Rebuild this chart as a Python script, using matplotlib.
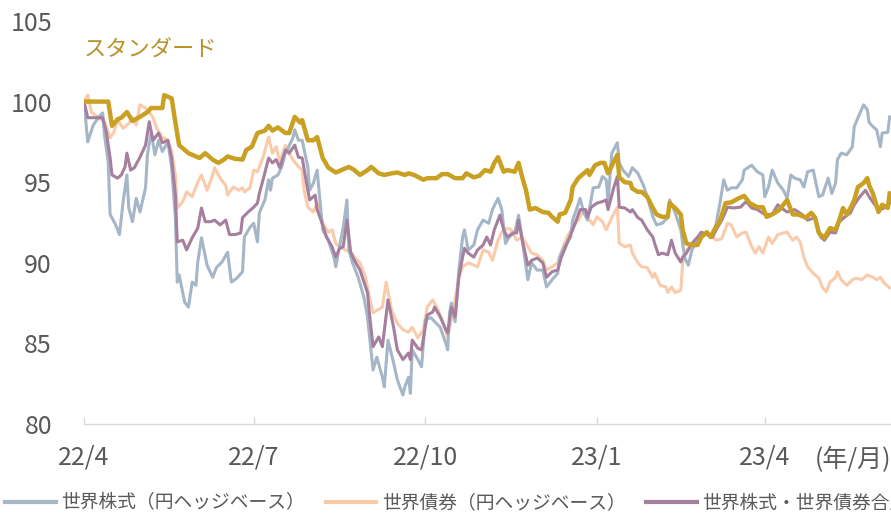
import matplotlib
matplotlib.use("Agg")
import matplotlib.pyplot as plt
from matplotlib.lines import Line2D
import pandas as pd

plt.rcParams['font.family'] = ['Noto Sans CJK JP', 'DejaVu Sans']

START = pd.Timestamp("2022-04-01")
END = pd.Timestamp("2023-06-07 17:00")

# --- days since START and index values --- #
equity_days = [0, 2, 5, 8, 10, 11, 13, 14, 17, 19, 21, 23, 24, 26, 28, 30, 33, 34, 36, 38,
               40, 42, 45, 47, 49, 50, 51, 54, 56, 58, 60, 61, 63, 66, 69, 71, 74, 77, 79, 82,
               85, 86, 89, 91, 93, 94, 97, 99, 100, 101, 104, 106, 108, 109, 112, 113, 115, 117, 120, 121,
               123, 125, 127, 128, 131, 134, 135, 137, 139, 141, 142, 144, 147, 150, 152, 155, 157, 160, 161, 163,
               166, 168, 171, 172, 174, 175, 176, 179, 181, 183, 186, 188, 191, 194, 195, 196, 197, 199, 201, 203,
               204, 206, 209, 211, 214, 217, 219, 222, 224, 226, 228, 231, 233, 235, 238, 240, 243, 246, 248, 251,
               254, 255, 258, 261, 262, 264, 266, 268, 270, 273, 276, 278, 280, 281, 283, 286, 287, 289, 292, 294,
               297, 300, 302, 305, 307, 310, 313, 314, 317, 320, 322, 324, 326, 329, 331, 334, 337, 339, 341, 343,
               345, 347, 350, 353, 354, 358, 361, 364, 365, 367, 369, 372, 375, 377, 379, 381, 384, 386, 388, 391,
               394, 396, 399, 401, 403, 404, 406, 409, 412, 413, 415, 418, 420, 421, 423, 425, 427, 428, 431, 432]
equity_vals = [100.0, 97.5, 98.55, 99.05, 99.3, 97.9, 96.25, 93.0, 92.35, 91.75, 93.8, 95.45, 93.4, 92.55, 94.0, 93.15, 94.65, 96.7, 98.1, 96.7,
               97.6, 96.9, 97.5, 95.9, 92.8, 88.8, 89.25, 87.55, 87.25, 88.8, 88.6, 90.05, 91.55, 89.85, 89.1, 89.7, 90.05, 90.65, 88.8, 89.05,
               89.45, 91.6, 92.2, 92.45, 91.3, 93.1, 93.9, 95.15, 94.5, 95.25, 95.45, 95.95, 96.8, 97.0, 97.75, 98.25, 97.6, 97.6, 95.95, 94.5,
               94.95, 95.75, 93.3, 92.05, 91.4, 90.35, 89.75, 91.0, 92.2, 93.9, 90.8, 90.0, 89.1, 87.9, 86.65, 83.35, 84.15, 82.9, 82.3, 85.2,
               83.8, 82.75, 81.8, 82.3, 82.9, 81.9, 84.6, 84.0, 83.55, 86.45, 86.6, 86.35, 86.0, 85.0, 84.6, 86.9, 87.5, 86.35, 89.55, 91.6,
               92.05, 90.8, 91.1, 92.05, 92.65, 92.45, 93.3, 94.0, 93.3, 91.2, 91.6, 91.9, 92.95, 91.4, 88.95, 90.0, 89.55, 89.55, 88.5, 88.95,
               89.35, 90.35, 91.1, 91.6, 92.65, 93.3, 94.0, 93.1, 92.65, 94.65, 94.7, 95.35, 95.15, 93.8, 96.8, 97.45, 96.2, 95.75, 95.35, 95.9,
               95.55, 94.8, 94.1, 92.85, 92.35, 92.45, 92.8, 93.9, 93.1, 92.05, 90.35, 89.85, 90.8, 91.4, 91.6, 91.85, 91.6, 92.45, 93.7, 95.15,
               94.5, 94.65, 94.65, 95.15, 95.75, 96.05, 95.65, 95.45, 94.1, 94.7, 95.75, 94.95, 94.5, 94.0, 95.45, 95.25, 95.15, 94.7, 95.65, 95.75,
               94.1, 94.2, 95.25, 94.3, 94.95, 96.4, 96.8, 96.7, 97.2, 98.45, 99.0, 99.8, 99.5, 98.7, 98.45, 98.25, 97.2, 98.05, 98.1, 99.05]

bond_days = [0, 2, 4, 8, 11, 14, 16, 18, 21, 24, 26, 28, 30, 33, 35, 37, 39, 42, 45, 47,
             49, 50, 53, 55, 58, 61, 63, 66, 69, 70, 73, 76, 77, 80, 83, 85, 86, 89, 91, 93,
             96, 99, 101, 103, 105, 108, 110, 112, 115, 117, 118, 120, 123, 125, 127, 128, 131, 133, 135, 137,
             140, 143, 145, 148, 151, 153, 155, 157, 160, 162, 165, 168, 171, 174, 176, 179, 182, 184, 187, 190,
             192, 195, 198, 201, 203, 206, 209, 211, 214, 217, 219, 222, 224, 227, 229, 232, 235, 238, 240, 243,
             246, 248, 251, 254, 256, 259, 262, 265, 268, 270, 273, 275, 278, 280, 283, 286, 287, 290, 293, 294,
             297, 299, 302, 305, 306, 309, 312, 313, 315, 317, 320, 321, 323, 326, 329, 331, 334, 337, 339, 342,
             345, 347, 350, 353, 355, 358, 360, 362, 364, 367, 369, 372, 375, 377, 380, 382, 384, 386, 388, 391,
             394, 396, 398, 400, 403, 404, 406, 409, 412, 414, 417, 420, 423, 425, 427, 429, 432]
bond_vals = [100.0, 100.4, 99.35, 99.0, 98.75, 97.75, 98.1, 98.85, 98.35, 98.65, 99.0, 98.55, 99.8, 99.6, 99.35, 99.0, 98.35, 97.8, 97.6, 96.9,
             95.45, 93.4, 93.8, 94.4, 94.1, 95.0, 95.45, 94.5, 95.45, 95.9, 95.25, 94.8, 94.2, 94.7, 94.5, 94.65, 94.4, 94.65, 95.75, 95.65,
             96.55, 97.8, 96.8, 97.2, 96.25, 97.3, 96.8, 96.4, 95.95, 95.75, 94.5, 93.45, 93.15, 93.7, 93.0, 92.45, 91.9, 92.05, 91.2, 91.0,
             90.8, 90.65, 90.35, 90.0, 89.1, 87.9, 86.9, 87.05, 87.25, 88.8, 87.05, 86.25, 85.85, 85.7, 86.0, 85.35, 85.85, 87.25, 87.7, 87.05,
             86.45, 85.4, 87.05, 89.1, 89.75, 90.0, 89.85, 89.75, 90.8, 90.65, 90.15, 91.4, 91.9, 92.15, 92.05, 91.4, 91.6, 91.0, 90.6, 90.5,
             90.15, 89.55, 89.75, 90.0, 90.7, 91.6, 92.2, 92.65, 93.3, 92.85, 92.35, 92.85, 92.55, 92.05, 92.8, 93.45, 91.2, 91.0, 91.1, 90.6,
             90.0, 89.75, 89.7, 89.1, 89.35, 88.6, 88.5, 88.15, 88.5, 88.15, 88.3, 90.0, 90.8, 91.1, 91.55, 91.75, 91.85, 91.6, 91.4, 91.5,
             92.45, 92.35, 91.6, 91.85, 91.9, 91.0, 90.6, 91.0, 90.6, 91.6, 91.2, 91.75, 91.85, 91.9, 91.4, 91.6, 91.3, 90.35, 89.75, 89.35,
             89.05, 88.45, 88.2, 88.8, 89.1, 89.45, 88.95, 88.6, 88.95, 89.05, 88.95, 89.25, 89.1, 88.95, 89.1, 88.75, 88.45]

mix_days = [0, 2, 6, 10, 12, 14, 15, 18, 20, 22, 23, 25, 27, 30, 33, 35, 37, 40, 42, 45,
            47, 49, 50, 53, 55, 58, 61, 63, 65, 68, 70, 73, 76, 78, 81, 84, 85, 88, 91, 93,
            94, 96, 99, 101, 103, 105, 108, 110, 113, 115, 117, 120, 121, 124, 125, 128, 130, 133, 135, 137,
            139, 141, 143, 145, 148, 152, 153, 155, 158, 160, 163, 166, 168, 171, 174, 175, 176, 179, 181, 184,
            187, 188, 191, 194, 195, 197, 199, 201, 203, 204, 206, 209, 211, 214, 216, 218, 220, 223, 225, 227,
            230, 232, 233, 235, 238, 240, 243, 246, 248, 251, 254, 256, 259, 262, 264, 266, 269, 270, 272, 275,
            278, 280, 281, 284, 286, 287, 290, 293, 294, 297, 299, 302, 305, 306, 308, 310, 313, 315, 317, 320,
            321, 323, 326, 329, 331, 334, 337, 339, 342, 345, 348, 352, 355, 358, 361, 365, 369, 372, 374, 377,
            381, 385, 388, 392, 395, 397, 400, 403, 405, 408, 411, 413, 416, 419, 421, 424, 427, 429, 432]
mix_vals = [100.0, 99.0, 99.0, 99.0, 98.1, 96.5, 95.45, 95.25, 95.45, 95.95, 96.8, 95.75, 95.9, 96.55, 97.3, 98.75, 97.6, 98.05, 97.45, 97.6,
            96.5, 94.2, 91.3, 91.4, 90.8, 91.55, 92.15, 93.4, 92.55, 92.55, 92.65, 92.35, 92.65, 91.75, 91.75, 91.85, 92.8, 93.15, 93.45, 93.7,
            94.3, 95.15, 96.5, 96.2, 96.4, 95.9, 97.0, 96.8, 97.3, 96.55, 96.5, 94.5, 93.9, 94.2, 93.3, 92.35, 91.6, 91.0, 90.35, 90.9,
            91.0, 92.65, 90.65, 90.15, 89.55, 88.15, 86.9, 84.8, 85.4, 84.8, 87.7, 86.0, 84.6, 84.0, 84.4, 84.0, 85.2, 84.7, 84.6, 86.75,
            86.95, 87.25, 86.65, 85.85, 85.65, 87.25, 86.65, 89.1, 90.35, 90.9, 90.6, 90.35, 90.8, 91.1, 91.6, 91.1, 92.05, 92.95, 92.05, 91.6,
            91.85, 91.85, 92.65, 91.4, 89.85, 90.15, 90.3, 90.0, 89.1, 89.45, 89.55, 90.35, 91.2, 92.05, 92.65, 93.3, 93.3, 92.85, 93.45, 93.7,
            93.8, 93.9, 93.3, 94.65, 95.35, 93.45, 93.4, 93.15, 93.3, 92.8, 92.65, 92.05, 91.6, 91.2, 90.5, 90.6, 90.5, 91.4, 90.6, 90.05,
            90.35, 90.6, 91.2, 91.6, 91.9, 91.75, 91.6, 92.05, 92.65, 93.45, 93.4, 93.45, 93.8, 93.4, 93.3, 93.0, 93.0, 93.6, 93.4, 93.15,
            93.3, 93.0, 92.65, 92.8, 91.6, 91.4, 91.9, 91.85, 92.55, 92.85, 93.1, 93.6, 94.1, 94.5, 94.1, 93.6, 93.3, 93.4, 93.7]

std_days = [0, 13, 15, 18, 20, 23, 26, 30, 34, 36, 42, 43, 47, 49, 51, 56, 58, 62, 65, 69,
            72, 75, 77, 81, 85, 87, 90, 93, 97, 99, 101, 104, 108, 110, 113, 116, 117, 120, 123, 125,
            128, 131, 135, 138, 142, 145, 148, 152, 154, 158, 161, 165, 168, 172, 174, 177, 182, 184, 189, 192,
            195, 199, 203, 205, 209, 212, 215, 218, 220, 222, 225, 227, 231, 233, 235, 237, 239, 242, 246, 249,
            251, 254, 255, 258, 261, 262, 265, 268, 270, 271, 274, 277, 279, 281, 284, 286, 287, 290, 293, 294,
            297, 299, 302, 305, 307, 310, 313, 314, 317, 320, 321, 323, 326, 329, 331, 334, 336, 338, 341, 344,
            347, 351, 354, 357, 361, 364, 366, 369, 373, 377, 380, 383, 387, 390, 392, 394, 397, 400, 403, 405,
            407, 409, 411, 413, 415, 418, 420, 421, 423, 426, 428, 431, 432]
std_vals = [100.0, 100.0, 98.5, 98.9, 99.0, 99.35, 98.8, 99.05, 99.35, 99.6, 99.6, 100.4, 100.2, 98.7, 97.3, 96.8, 96.7, 96.5, 96.8, 96.4,
            96.2, 96.4, 96.6, 96.45, 96.4, 97.0, 97.2, 98.05, 98.2, 98.5, 98.2, 98.4, 98.05, 98.05, 99.05, 98.7, 98.85, 97.6, 97.6, 97.8,
            96.5, 95.9, 95.6, 95.75, 95.95, 95.75, 95.45, 95.75, 95.95, 95.55, 95.45, 95.55, 95.6, 95.45, 95.55, 95.45, 95.15, 95.25, 95.25, 95.5,
            95.5, 95.25, 95.25, 95.55, 95.3, 95.4, 95.75, 95.65, 96.2, 96.55, 95.65, 95.75, 95.65, 96.2, 95.3, 94.5, 93.3, 93.4, 93.15, 93.1,
            92.85, 92.55, 93.0, 93.1, 93.9, 94.7, 95.25, 95.55, 95.75, 95.45, 96.05, 96.2, 96.2, 95.55, 96.25, 96.7, 95.3, 95.0, 94.95, 94.6,
            94.4, 94.4, 94.1, 93.4, 93.0, 92.85, 92.85, 93.7, 93.4, 93.0, 92.05, 91.2, 91.1, 91.1, 91.6, 91.9, 91.6, 92.05, 92.6, 93.7,
            93.75, 94.0, 94.15, 93.7, 93.45, 93.45, 92.85, 93.0, 93.3, 93.9, 93.0, 93.0, 92.8, 93.1, 92.8, 91.85, 91.55, 92.15, 92.05, 92.65,
            93.4, 93.0, 93.4, 93.9, 94.7, 94.95, 95.25, 94.8, 94.3, 93.15, 93.6, 93.4, 94.3]

series_labels = ["世界株式（円ヘッジベース）", "世界債券（円ヘッジベース）", "世界株式・世界債券合成"]
title_text = "スタンダード"
tick_dates = ["2022-04-01", "2022-07-01", "2022-10-01", "2023-01-01", "2023-04-01"]
tick_labels = ["22/4", "22/7", "22/10", "23/1", "23/4"]
y_ticks = [80, 85, 90, 95, 100, 105]

EQUITY_COLOR = "#a5b6c7"
BOND_COLOR = "#f9cbab"
MIX_COLOR = "#a57f9d"
STD_COLOR = "#c9a022"
TEXT_COLOR = "#595959"


def to_dates(days):
    return START + pd.to_timedelta(days, unit="D")


def main():
    fig = plt.figure(figsize=(8.91, 5.15), dpi=100)
    ax = fig.add_axes([84 / 891, 91 / 515, 807 / 891, 403 / 515])

    ax.plot(to_dates(bond_days), bond_vals, color=BOND_COLOR, lw=2.2, zorder=2)
    ax.plot(to_dates(equity_days), equity_vals, color=EQUITY_COLOR, lw=2.2, zorder=3)
    ax.plot(to_dates(mix_days), mix_vals, color=MIX_COLOR, lw=2.2, zorder=4)
    ax.plot(to_dates(std_days), std_vals, color=STD_COLOR, lw=3.2, zorder=5)

    ax.set_xlim(START, END)
    ax.set_ylim(80, 105)
    ax.set_yticks(y_ticks)
    ax.set_xticks(pd.to_datetime(tick_dates))
    ax.set_xticklabels(tick_labels)

    # --- axis styling --- #
    for side in ["left", "right", "top"]:
        ax.spines[side].set_visible(False)
    ax.spines["bottom"].set_color("#d9d9d9")
    ax.spines["bottom"].set_linewidth(1.0)
    ax.tick_params(axis="x", direction="in", length=5, width=1.0, color="#d9d9d9",
                   pad=15, labelsize=18, labelcolor=TEXT_COLOR)
    ax.tick_params(axis="y", length=0, pad=23, labelsize=18, labelcolor=TEXT_COLOR)

    ax.text(0.0, 0.93, title_text, transform=ax.transAxes, fontsize=16,
            color="#b5932b", ha="left", va="center")
    fig.text(1.0, 0.107, "(年/月)", fontsize=18, color=TEXT_COLOR, ha="right", va="center")

    # --- legend along the bottom edge --- #
    handles = [Line2D([], [], color=c, lw=3)
               for c in [EQUITY_COLOR, BOND_COLOR, MIX_COLOR]]
    fig.legend(handles, series_labels, loc="center left", bbox_to_anchor=(5 / 891, 12 / 515),
               ncol=3, frameon=False, fontsize=13.5, handlelength=2.7, handletextpad=0.3,
               columnspacing=1.1, borderpad=0, borderaxespad=0, labelcolor=TEXT_COLOR)

    fig.savefig("out.png", dpi=100)


if __name__ == '__main__':
    main()
